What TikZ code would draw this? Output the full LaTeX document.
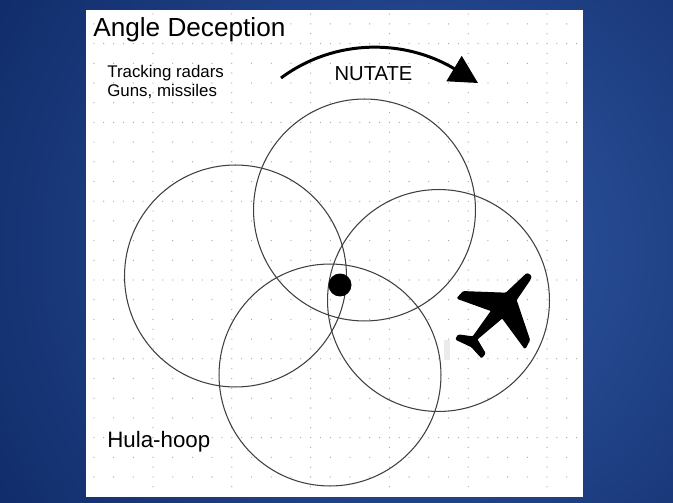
\documentclass[tikz,border=0pt]{standalone}
\usepackage{fontspec}
\setmainfont{Liberation Sans}
\usetikzlibrary{arrows.meta}
\definecolor{slideblue}{HTML}{3159A6}
\definecolor{slidenavy}{HTML}{0C2661}
\begin{document}
\begin{tikzpicture}[x=0.02cm, y=-0.02cm]
    \tikzstyle{hoop}=[circle, draw=black!75, line width=0.6pt,
                            inner sep=0pt, minimum width=4.44cm]
    \tikzstyle{griddot}=[fill=black!35]
    \useasboundingbox (0,0) rectangle (673,503);

    % slide background and sheet
    \begin{scope}
    \clip (0,0) rectangle (673,503);
    \shade[inner color=slideblue, outer color=slidenavy] (420,250) circle (560);
    \end{scope}
    \fill[white] (86,10) rectangle (583,497);

    % dotted paper
    \foreach \i in {0,...,24}
        \foreach \j in {0,...,23}
            \fill[griddot] (93.9+19.7*\i, 477-19.7*\j) circle (0.65);
    \foreach \x in {153,231.8,310.6,389.4,468.2,547}
        \foreach \j in {0,...,24}
            \fill[griddot] (\x, 486.8-19.7*\j) circle (0.65);
    \foreach \y in {43.6,122.4,201.2,280,358.8,437.6}
        \foreach \i in {0,...,24}
            \fill[griddot] (103.7+19.7*\i, \y) circle (0.65);
    \fill[black!8] (444,340) rectangle (450,360);

    \node[hoop] (left) at (235.5,276) {};
    \node[hoop] (top) at (364.5,210) {};
    \node[hoop] (right) at (438.5,300.5) {};
    \node[hoop] (bottom) at (330,375) {};
    \node[circle, fill=black, inner sep=0pt, minimum width=0.46cm] (target) at (340,285) {};

    \node[anchor=west, inner sep=0pt, font=\fontsize{14.9}{18}\selectfont] (title) at (93,30) {Angle Deception};
    \node[anchor=north west, inner sep=0pt, align=left, font=\fontsize{9.6}{10.8}\selectfont] (roles) at (107,65)
        {Tracking radars\\Guns, missiles};
    \node[font=\fontsize{11.5}{13}\selectfont] (nutate) at (373.5,74) {NUTATE};
    \node[anchor=west, inner sep=0pt, font=\fontsize{12.7}{15}\selectfont] (hula) at (107,442) {Hula-hoop};

    % nutation arrow
    \coordinate (nutatea) at (281,78);
    \coordinate (nutateb) at (478,83);
    \draw[line width=1.7pt, -{Triangle[length=0.56cm, width=0.58cm]}]
        (nutatea) .. controls (335,38) and (405,39) .. (nutateb);

    % aircraft
    \fill[black, draw=black, line width=0.7pt, rounded corners=0.6pt] (527,273.5) -- (531,276) -- (530,279.5) -- (516,300)
        -- (529.5,340) -- (525,348.5) -- (502.3,317.7) -- (476.7,339.3)
        -- (485,353.3) -- (481.7,357.7) -- (471.7,346.7) -- (456,339.3)
        -- (458.3,335) -- (473,337) -- (491.7,310.7) -- (457.3,298.3)
        -- (463.3,291.7) -- (506,293.3) -- cycle;
\end{tikzpicture}
\end{document}
